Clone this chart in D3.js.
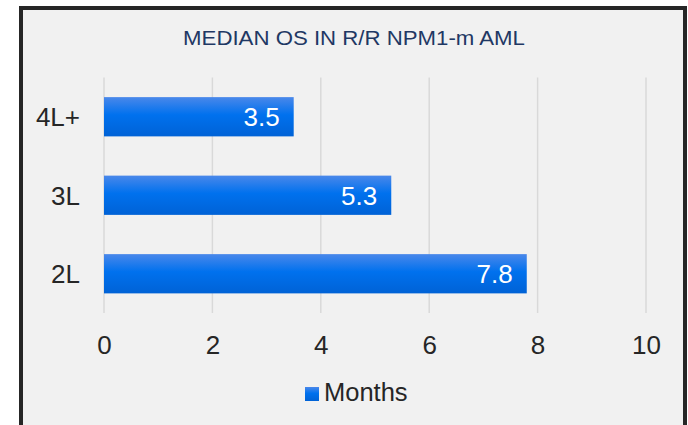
<html>
    <head>
        <style>
            body { margin: 0; background: #fff; }
            text { font-family: "Liberation Sans", Arial, sans-serif; }
        </style>
    </head>
    <body>
        <div id="chart"></div>
        <script src="https://d3js.org/d3.v7.min.js"></script>
        <script>
            const categories = ['4L+', '3L', '2L'];
            const months = [3.5, 5.3, 7.8];
            const xTicks = [0, 2, 4, 6, 8, 10];
            const title = 'MEDIAN OS IN R/R NPM1-m AML';
            const seriesName = 'Months';

            const W = 688, H = 425;
            const plot = { left: 104, right: 646, top: 77.5, bottom: 313 };

            const svg = d3.select('#chart')
                .append('svg')
                .attr('width', W)
                .attr('height', H);

            // gradient for bars
            const defs = svg.append('defs');
            const grad = defs.append('linearGradient')
                .attr('id', 'barGrad')
                .attr('x1', 0).attr('y1', 0).attr('x2', 0).attr('y2', 1);
            grad.append('stop').attr('offset', '0%').attr('stop-color', '#4a88ea');
            grad.append('stop').attr('offset', '45%').attr('stop-color', '#0071ee');
            grad.append('stop').attr('offset', '100%').attr('stop-color', '#0062d6');

            // frame
            svg.append('rect')
                .attr('x', 21).attr('y', 8)
                .attr('width', 664).attr('height', 440)
                .attr('fill', '#f1f1f1')
                .attr('stroke', '#262626')
                .attr('stroke-width', 4);

            // title is a little wider than the font gives, stretch it
            svg.append('text')
                .attr('transform', 'translate(354,44.5) scale(1.14,1)')
                .attr('text-anchor', 'middle')
                .style('font-size', '19.5px')
                .attr('fill', '#1f3864')
                .text(title);

            const x = d3.scaleLinear()
                .domain([0, 10])
                .range([plot.left, plot.right]);

            const y = d3.scaleBand()
                .domain(categories)
                .range([plot.top, plot.bottom])
                .paddingInner(0.5)
                .paddingOuter(0.25);

            // gridlines
            svg.append('g')
                .selectAll('line')
                .data(xTicks)
                .join('line')
                .attr('x1', d => x(d)).attr('x2', d => x(d))
                .attr('y1', plot.top).attr('y2', plot.bottom)
                .attr('stroke', '#d9d9d9')
                .attr('stroke-width', 1.5);

            // x axis labels
            const xAxis = svg.append('g')
                .attr('transform', `translate(0,${plot.bottom})`)
                .call(d3.axisBottom(x).tickValues(xTicks).tickSize(0).tickPadding(0));
            xAxis.select('.domain').remove();
            xAxis.selectAll('text')
                .attr('dy', null)
                .attr('y', 41)
                .style('font-size', '26px')
                .attr('fill', '#262626');

            // y axis labels
            const yAxis = svg.append('g')
                .attr('transform', `translate(${plot.left},0)`)
                .call(d3.axisLeft(y).tickSize(0).tickPadding(24));
            yAxis.select('.domain').remove();
            yAxis.selectAll('text')
                .attr('dy', '9.5')
                .style('font-size', '26px')
                .attr('fill', '#262626');

            // bars
            const bars = svg.append('g')
                .selectAll('g')
                .data(categories)
                .join('g');

            bars.append('rect')
                .attr('x', x(0))
                .attr('y', d => y(d))
                .attr('width', (d, i) => x(months[i]) - x(0))
                .attr('height', y.bandwidth())
                .attr('fill', 'url(#barGrad)');

            bars.append('text')
                .attr('x', (d, i) => x(months[i]) - 14)
                .attr('y', d => y(d) + y.bandwidth() / 2 + 9.5)
                .attr('text-anchor', 'end')
                .style('font-size', '26px')
                .attr('fill', '#ffffff')
                .text((d, i) => months[i]);

            // legend
            svg.append('rect')
                .attr('x', 305).attr('y', 387)
                .attr('width', 14).attr('height', 14)
                .attr('fill', 'url(#barGrad)');
            svg.append('text')
                .attr('x', 324).attr('y', 401)
                .style('font-size', '25.5px')
                .attr('fill', '#262626')
                .text(seriesName);
        </script>
    </body>
</html>
